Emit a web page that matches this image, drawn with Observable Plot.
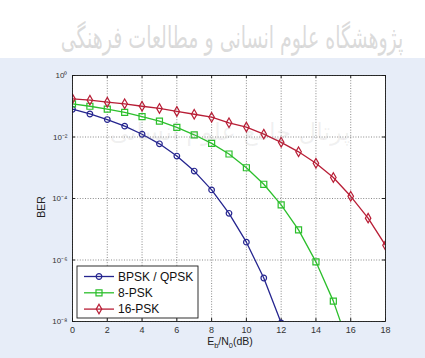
<!DOCTYPE html>
<html><head><meta charset="utf-8">
<script src="https://cdn.jsdelivr.net/npm/d3@7"></script>
<script src="https://cdn.jsdelivr.net/npm/@observablehq/plot@0.6"></script>
<style>
html,body{margin:0;padding:0;}
body{width:425px;height:358px;overflow:hidden;background:linear-gradient(#ffffff 0,#ffffff 58px,#e7edf8 58px);font-family:"Liberation Sans",Arial,sans-serif;}
#chart svg{display:block;background:transparent;}
</style></head><body><div id="chart"></div>
<script>
const snr = [0,1,2,3,4,5,6,7,8,9,10,11,12,13,14,15,16,17,18];
const bpsk = [8.0e-2,5.6e-2,3.7e-2,2.25e-2,1.23e-2,6.0e-3,2.4e-3,7.8e-4,1.9e-4,3.3e-5,3.8e-6,2.6e-7,9e-9];
const psk8 = [0.12,0.10,0.081,0.063,0.046,0.033,0.0205,0.0118,6.2e-3,2.8e-3,1.0e-3,2.9e-4,6.2e-5,9.5e-6,8.7e-7,4.6e-8,1.1e-9];
const psk16 = [0.174,0.158,0.136,0.12,0.10,0.085,0.068,0.055,0.044,0.029,0.021,0.0124,6.7e-3,3.3e-3,1.4e-3,4.8e-4,1.18e-4,2.3e-5,3.0e-6];
const seriesNames = ["BPSK / QPSK","8-PSK","16-PSK"];
const seriesColors = ["#25258f","#2cbf2c","#b81e36"];
const seriesSymbols = ["circle","square","diamond"];
const seriesR = [2.8,3.4,2.9];
const xTicks = [0,2,4,6,8,10,12,14,16,18];
const yTicks = [1,1e-2,1e-4,1e-6,1e-8];
const yTickLabels = ["10⁰","10⁻²","10⁻⁴","10⁻⁶","10⁻⁸"];

const allSeries = [bpsk, psk8, psk16];
const rows = [];
allSeries.forEach((vals, si) => vals.forEach((v, i) => rows.push({snr: snr[i], ber: v, s: seriesNames[si]})));

const W = 425, H = 358, mL = 72, mR = 40, mT = 75, mB = 37;
const pw = W - mL - mR, ph = H - mT - mB;

const chart = Plot.plot({
  width: W, height: H,
  marginLeft: mL, marginRight: mR, marginTop: mT, marginBottom: mB,
  style: {background: "transparent", fontFamily: "Liberation Sans, Arial, sans-serif"},
  x: {domain: [0, 18], ticks: xTicks},
  y: {type: "log", domain: [1e-8, 1]},
  marks: [
    Plot.frame({fill: "white", stroke: null}),
    Plot.ruleX(xTicks, {x: d => d, stroke: "#3a3a3a", strokeOpacity: 0.75, strokeWidth: 0.8, strokeDasharray: "1,1.6"}),
    Plot.ruleY(yTicks, {y: d => d, stroke: "#3a3a3a", strokeOpacity: 0.75, strokeWidth: 0.8, strokeDasharray: "1,1.6"}),
    Plot.tickX(xTicks, {x: d => d, insetTop: ph - 3, stroke: "#222"}),
    Plot.tickX(xTicks, {x: d => d, insetBottom: ph - 3, stroke: "#222"}),
    Plot.tickY(yTicks, {y: d => d, insetRight: pw - 3, stroke: "#222"}),
    Plot.tickY(yTicks, {y: d => d, insetLeft: pw - 3, stroke: "#222"}),
    Plot.axisX({ticks: xTicks, tickSize: 0, tickPadding: 5, fontSize: 9, fill: "#333", label: null}),
    Plot.axisY({ticks: yTicks, tickSize: 0, tickPadding: 5, fontSize: 8, fill: "#333", label: null,
      tickFormat: d => yTickLabels[yTicks.indexOf(d)]}),
    ...allSeries.map((vals, si) => Plot.line(rows.filter(r => r.s === seriesNames[si]), {
      x: "snr", y: "ber", stroke: seriesColors[si], strokeWidth: 1.3, clip: true})),
    ...allSeries.map((vals, si) => Plot.dot(rows.filter(r => r.s === seriesNames[si]), {
      x: "snr", y: "ber", stroke: seriesColors[si], symbol: () => seriesSymbols[si], r: seriesR[si],
      fill: "none", strokeWidth: 1.2, clip: true})),
    Plot.frame({stroke: "#1a1a1a", strokeWidth: 0.9})
  ]
});
document.getElementById("chart").appendChild(chart);

const svg = d3.select(chart);
// watermark (top)
svg.insert("text", ":first-child")
  .attr("transform", "translate(232,48) scale(1,1.6)")
  .attr("text-anchor", "middle")
  .attr("font-family", "DejaVu Sans").attr("font-size", 19)
  .attr("fill", "#c4c4c4").attr("fill-opacity", 0.6)
  .text("پژوهشگاه علوم انسانی و مطالعات فرهنگی");
// faint watermark inside plot
svg.append("text")
  .attr("x", 230).attr("y", 140).attr("text-anchor", "middle")
  .attr("font-family", "DejaVu Sans").attr("font-size", 24)
  .attr("fill", "#888").attr("fill-opacity", 0.12)
  .text("پرتال جامع علوم انسانی");

// axis titles
svg.append("text").attr("transform", "translate(45,207) rotate(-90)")
  .attr("text-anchor", "middle").attr("font-size", 10.5).attr("fill", "#222")
  .text("BER");
const xl = svg.append("text").attr("x", 230).attr("y", 345)
  .attr("text-anchor", "middle").attr("font-size", 10.5).attr("fill", "#222");
xl.append("tspan").text("E");
xl.append("tspan").attr("font-size", 7.5).attr("dy", 2.5).text("b");
xl.append("tspan").attr("dy", -2.5).text("/N");
xl.append("tspan").attr("font-size", 7.5).attr("dy", 2.5).text("0");
xl.append("tspan").attr("dy", -2.5).text("(dB)");

// legend
const lg = svg.append("g");
lg.append("rect").attr("x", 77).attr("y", 266).attr("width", 121).attr("height", 52)
  .attr("fill", "white").attr("stroke", "#1a1a1a").attr("stroke-width", 0.9);
const symMap = {circle: d3.symbolCircle, square: d3.symbolSquare, diamond: d3.symbolDiamond};
seriesNames.forEach((name, i) => {
  const y = 276.5 + i * 16.3;
  lg.append("line").attr("x1", 84).attr("x2", 114).attr("y1", y).attr("y2", y)
    .attr("stroke", seriesColors[i]).attr("stroke-width", 1.3);
  lg.append("path").attr("transform", `translate(99,${y})`)
    .attr("d", d3.symbol(symMap[seriesSymbols[i]], seriesR[i] * seriesR[i] * Math.PI)())
    .attr("fill", "none").attr("stroke", seriesColors[i]).attr("stroke-width", 1.2);
  lg.append("text").attr("x", 118).attr("y", y).attr("dy", "0.36em")
    .attr("text-anchor", "start")
    .attr("font-size", 12).attr("fill", "#111").text(name);
});
</script></body></html>
